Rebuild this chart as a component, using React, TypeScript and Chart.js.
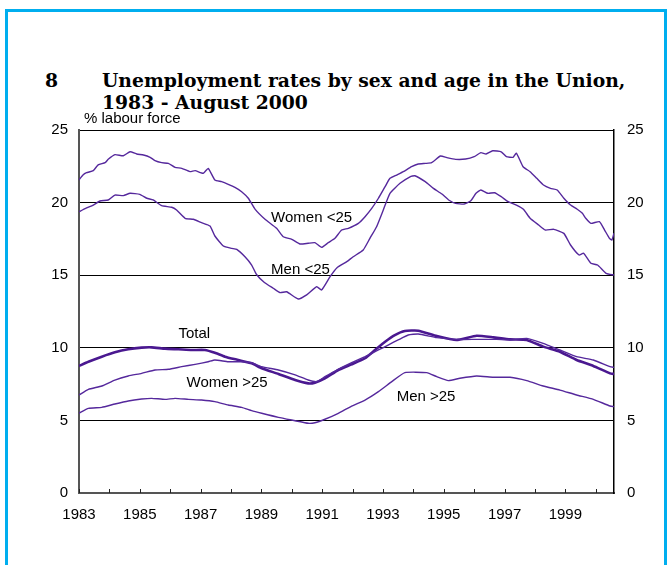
import React, { useEffect, useRef } from 'react';
import { Chart, registerables } from 'chart.js';

Chart.register(...registerables);

// ---- data ----
const womenU25Years = [1983.0, 1983.13, 1983.25, 1983.47, 1983.63, 1983.86, 1983.96, 1984.18, 1984.46, 1984.68, 1984.9, 1985.12, 1985.34, 1985.5, 1985.72, 1985.94, 1986.16, 1986.38, 1986.65, 1986.82, 1987.09, 1987.25, 1987.47, 1987.69, 1987.91, 1988.13, 1988.35, 1988.57, 1988.79, 1989.12, 1989.5, 1989.72, 1990.0, 1990.27, 1990.54, 1990.76, 1990.98, 1991.2, 1991.42, 1991.64, 1991.86, 1992.19, 1992.41, 1992.63, 1992.85, 1993.07, 1993.23, 1993.45, 1993.67, 1993.94, 1994.16, 1994.4, 1994.6, 1994.89, 1995.1, 1995.39, 1995.72, 1996.0, 1996.22, 1996.39, 1996.61, 1996.89, 1997.06, 1997.28, 1997.39, 1997.61, 1997.84, 1998.06, 1998.28, 1998.51, 1998.73, 1998.95, 1999.17, 1999.39, 1999.56, 1999.67, 1999.84, 2000.12, 2000.29, 2000.45, 2000.53, 2000.6];
const womenU25Rates = [21.56, 21.9, 22.06, 22.2, 22.6, 22.75, 22.98, 23.3, 23.23, 23.5, 23.35, 23.28, 23.12, 22.89, 22.75, 22.7, 22.43, 22.36, 22.13, 22.2, 22.02, 22.36, 21.56, 21.44, 21.26, 21.05, 20.75, 20.3, 19.55, 18.85, 18.23, 17.65, 17.47, 17.15, 17.2, 17.24, 16.92, 17.24, 17.54, 18.11, 18.23, 18.57, 19.03, 19.6, 20.3, 21.1, 21.67, 21.9, 22.13, 22.47, 22.66, 22.7, 22.75, 23.21, 23.1, 22.98, 23.0, 23.16, 23.44, 23.35, 23.57, 23.5, 23.16, 23.12, 23.4, 22.47, 22.13, 21.67, 21.21, 20.98, 20.87, 20.3, 19.83, 19.54, 19.26, 18.92, 18.57, 18.69, 18.11, 17.54, 17.42, 17.9];

const menU25Years = [1983.0, 1983.22, 1983.47, 1983.69, 1983.96, 1984.18, 1984.46, 1984.68, 1985.0, 1985.23, 1985.44, 1985.72, 1986.05, 1986.21, 1986.49, 1986.76, 1987.03, 1987.31, 1987.47, 1987.75, 1988.02, 1988.19, 1988.46, 1988.68, 1988.84, 1989.1, 1989.39, 1989.61, 1989.83, 1990.21, 1990.49, 1990.82, 1990.98, 1991.26, 1991.48, 1991.81, 1992.02, 1992.35, 1992.57, 1992.79, 1993.01, 1993.23, 1993.56, 1993.89, 1994.05, 1994.39, 1994.66, 1994.94, 1995.16, 1995.39, 1995.67, 1995.89, 1996.06, 1996.22, 1996.45, 1996.67, 1996.89, 1997.12, 1997.39, 1997.62, 1997.84, 1998.12, 1998.34, 1998.62, 1998.95, 1999.17, 1999.45, 1999.6, 1999.84, 2000.06, 2000.34, 2000.6];
const menU25Rates = [19.37, 19.6, 19.83, 20.11, 20.18, 20.52, 20.48, 20.64, 20.57, 20.3, 20.18, 19.79, 19.68, 19.49, 18.92, 18.85, 18.62, 18.39, 17.7, 17.01, 16.85, 16.78, 16.27, 15.7, 15.05, 14.5, 14.1, 13.8, 13.86, 13.36, 13.64, 14.21, 13.98, 14.9, 15.5, 15.93, 16.27, 16.74, 17.54, 18.34, 19.49, 20.64, 21.33, 21.78, 21.85, 21.44, 20.98, 20.59, 20.18, 19.95, 19.9, 20.13, 20.64, 20.87, 20.64, 20.68, 20.41, 20.06, 19.83, 19.54, 18.92, 18.46, 18.11, 18.16, 17.88, 17.08, 16.39, 16.51, 15.82, 15.7, 15.13, 15.01];

const totalYears = [1983.0, 1983.31, 1983.75, 1984.18, 1984.62, 1985.06, 1985.39, 1985.83, 1986.27, 1986.71, 1987.14, 1987.47, 1987.8, 1988.24, 1988.68, 1989.01, 1989.56, 1990.11, 1990.54, 1990.76, 1991.09, 1991.53, 1991.97, 1992.41, 1992.74, 1993.07, 1993.39, 1993.72, 1994.16, 1994.77, 1995.42, 1996.08, 1996.63, 1997.18, 1997.73, 1998.27, 1998.82, 1999.37, 1999.92, 2000.47, 2000.6];
const totalRates = [8.75, 9.04, 9.39, 9.69, 9.9, 10.01, 10.03, 9.94, 9.9, 9.85, 9.85, 9.66, 9.39, 9.16, 8.93, 8.59, 8.2, 7.78, 7.55, 7.6, 7.9, 8.47, 8.86, 9.28, 9.85, 10.42, 10.88, 11.16, 11.18, 10.81, 10.54, 10.83, 10.72, 10.58, 10.54, 10.08, 9.73, 9.16, 8.75, 8.24, 8.2];

const womenO25Years = [1983.0, 1983.31, 1983.75, 1984.18, 1984.62, 1985.06, 1985.5, 1985.94, 1986.38, 1986.82, 1987.25, 1987.47, 1987.91, 1988.35, 1988.68, 1989.01, 1989.56, 1990.11, 1990.54, 1990.82, 1991.09, 1991.53, 1991.97, 1992.41, 1992.85, 1993.17, 1993.5, 1993.83, 1994.16, 1994.77, 1995.42, 1996.08, 1996.74, 1997.18, 1997.73, 1998.27, 1998.82, 1999.37, 1999.92, 2000.47, 2000.6];
const womenO25Rates = [6.75, 7.14, 7.37, 7.78, 8.06, 8.24, 8.47, 8.52, 8.7, 8.86, 9.04, 9.16, 9.04, 9.04, 8.97, 8.7, 8.47, 8.13, 7.78, 7.67, 8.01, 8.52, 8.97, 9.39, 9.85, 10.19, 10.54, 10.88, 10.95, 10.7, 10.58, 10.58, 10.58, 10.54, 10.65, 10.31, 9.85, 9.39, 9.16, 8.7, 8.65];

const menO25Years = [1983.0, 1983.31, 1983.75, 1984.18, 1984.62, 1985.06, 1985.39, 1985.83, 1986.16, 1986.6, 1987.03, 1987.47, 1987.91, 1988.35, 1988.68, 1989.01, 1989.56, 1990.11, 1990.54, 1990.76, 1991.09, 1991.53, 1991.97, 1992.41, 1992.85, 1993.29, 1993.72, 1994.44, 1994.77, 1995.15, 1995.53, 1996.08, 1996.63, 1997.18, 1997.73, 1998.27, 1998.82, 1999.37, 1999.92, 2000.47, 2000.6];
const menO25Rates = [5.5, 5.83, 5.9, 6.13, 6.34, 6.47, 6.52, 6.45, 6.52, 6.45, 6.4, 6.29, 6.06, 5.9, 5.67, 5.49, 5.21, 4.98, 4.8, 4.84, 5.08, 5.49, 5.99, 6.4, 6.98, 7.67, 8.29, 8.29, 8.01, 7.74, 7.9, 8.06, 7.97, 7.97, 7.74, 7.37, 7.09, 6.75, 6.45, 5.99, 5.95];

const yearTickLabels = ['1983', '1985', '1987', '1989', '1991', '1993', '1995', '1997', '1999'];
const rateTicks = [0, 5, 10, 15, 20, 25];

const seriesNames = ['Women <25', 'Men <25', 'Total', 'Women >25', 'Men >25'];
// label anchors in data units (year, rate at text baseline)
const labelYears = [1989.32, 1989.32, 1986.27, 1986.54, 1993.45];
const labelRates = [18.66, 15.08, 10.67, 7.32, 6.36];

const THIN = '#55289c';
const THICK = '#4a1890';

function pts(xs: number[], ys: number[]) {
  return xs.map((x, i) => ({ x, y: ys[i] }));
}

const overlay = {
  id: 'overlay',
  afterDraw(chart: any) {
    const { ctx, chartArea, scales } = chart;
    const xs = scales.x;
    ctx.save();
    ctx.strokeStyle = '#222';
    ctx.lineWidth = 1;
    xs.ticks.forEach((t: any) => {
      const px = Math.round(xs.getPixelForValue(t.value)) + 0.5;
      ctx.beginPath();
      ctx.moveTo(px, chartArea.bottom);
      ctx.lineTo(px, chartArea.bottom - 4);
      ctx.stroke();
    });
    ctx.fillStyle = '#000';
    ctx.font = '15px "Liberation Sans", Arial, sans-serif';
    ctx.textAlign = 'left';
    ctx.textBaseline = 'alphabetic';
    seriesNames.forEach((name, i) => {
      ctx.fillText(name, xs.getPixelForValue(labelYears[i]), scales.y.getPixelForValue(labelRates[i]));
    });
    ctx.fillText('% labour force', chartArea.left + 5, chartArea.top - 7);
    ctx.restore();
  },
};

export default function App() {
  const ref = useRef<HTMLCanvasElement>(null);
  useEffect(() => {
    if (!ref.current) return;
    Chart.defaults.font.family = '"Liberation Sans", Arial, sans-serif';
    Chart.defaults.font.size = 15;
    Chart.defaults.color = '#000';
    const chart = new Chart(ref.current, {
      type: 'line',
      data: {
        datasets: [
          { label: 'Women <25', data: pts(womenU25Years, womenU25Rates), borderColor: THIN, borderWidth: 1.4 },
          { label: 'Men <25', data: pts(menU25Years, menU25Rates), borderColor: THIN, borderWidth: 1.4 },
          { label: 'Women >25', data: pts(womenO25Years, womenO25Rates), borderColor: THIN, borderWidth: 1.4 },
          { label: 'Men >25', data: pts(menO25Years, menO25Rates), borderColor: THIN, borderWidth: 1.4 },
          { label: 'Total', data: pts(totalYears, totalRates), borderColor: THICK, borderWidth: 2.6 },
        ].map((d) => ({ ...d, pointRadius: 0, fill: false, tension: 0.15 })),
      },
      options: {
        responsive: false,
        animation: false,
        devicePixelRatio: 1,
        layout: { padding: { top: 130, left: 0, right: 0, bottom: 32 } },
        plugins: { legend: { display: false }, tooltip: { enabled: false } },
        scales: {
          x: {
            type: 'linear',
            min: 1983,
            max: 2000.6,
            afterFit: (s: any) => { s.height = 40; },
            ticks: {
              stepSize: 1,
              includeBounds: false,
              autoSkip: false,
              maxRotation: 0,
              padding: 13,
              callback: (v: any) => (yearTickLabels.includes(String(v)) ? String(v) : ''),
            },
            grid: { display: false, drawTicks: false },
            border: { display: true, color: '#555', width: 2 },
          },
          y: {
            position: 'left',
            min: 0,
            max: 25,
            afterFit: (s: any) => { s.width = 79; },
            afterBuildTicks: (s: any) => { s.ticks = rateTicks.map((v) => ({ value: v })); },
            ticks: { padding: 11 },
            grid: { color: '#000', lineWidth: 1, drawTicks: false },
            border: { display: true, color: '#555', width: 2 },
          },
          y2: {
            position: 'right',
            min: 0,
            max: 25,
            afterFit: (s: any) => { s.width = 53; },
            afterBuildTicks: (s: any) => { s.ticks = rateTicks.map((v) => ({ value: v })); },
            ticks: { padding: 13 },
            grid: { drawOnChartArea: false, drawTicks: false },
            border: { display: true, color: '#000', width: 1.5 },
          },
        },
      },
      plugins: [overlay],
    } as any);
    return () => chart.destroy();
  }, []);

  const titleFont = 'bold 18.75px "DejaVu Serif", serif';
  return (
    <div style={{ position: 'absolute', left: 0, top: 0, width: 667, height: 565, overflow: 'hidden', background: '#fff' }}>
      <div
        style={{
          position: 'absolute', left: 5, top: 9, width: 662, height: 556, boxSizing: 'border-box',
          borderLeft: '3px solid #00aeef', borderTop: '3px solid #00aeef', borderRight: '3px solid #00aeef',
        }}
      />
      <div style={{ position: 'absolute', left: 45, top: 69, font: titleFont, lineHeight: '22px', color: '#000' }}>8</div>
      <div style={{ position: 'absolute', left: 102, top: 69, font: titleFont, lineHeight: '22px', color: '#000', whiteSpace: 'nowrap' }}>
        Unemployment rates by sex and age in the Union,<br />1983 - August 2000
      </div>
      <canvas ref={ref} width={667} height={565} style={{ position: 'absolute', left: 0, top: 0 }} />
    </div>
  );
}
